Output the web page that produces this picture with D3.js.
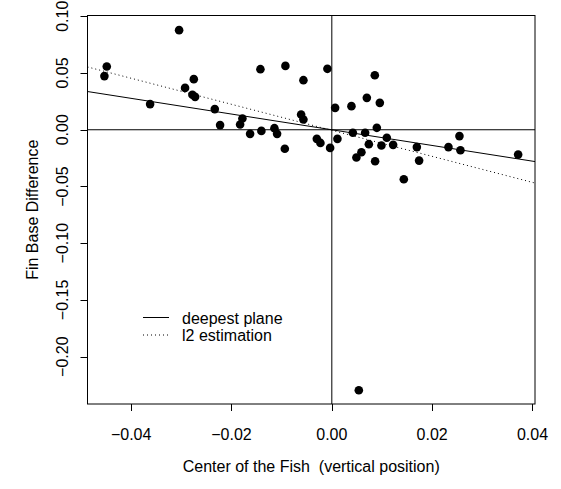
<html>

<head>
    <meta charset="utf-8" />
    <script src="https://cdn.jsdelivr.net/npm/d3@7"></script>
    <style>
        body { margin: 0; background: #fff; }
        text { font-family: "Liberation Sans", Arial, Helvetica, sans-serif; }
    </style>
</head>

<body>
    <script>
        // center of the fish (x) and fin base difference (y)
        var fishCenter = [
            -0.04486, -0.04533, -0.03044, -0.02751, -0.02925, -0.02779, -0.02725, -0.03622,
            -0.02333, -0.02227, -0.01782, -0.01828, -0.01629, -0.01423, -0.00925, -0.00088,
            -0.00566, 0.00857, 0.00698, 0.00957, 0.00391, 0.00066, -0.00612, -0.00566,
            -0.01404, -0.01144, -0.01091, -0.00937, -0.00299, -0.00227, -0.00034, 0.00112,
            0.00419, 0.00664, 0.00897, 0.01096, 0.00738, 0.00989, 0.00590, 0.00490,
            0.00863, 0.01222, 0.01695, 0.01740, 0.01435, 0.02325, 0.02544, 0.02564,
            0.03714, 0.00538
        ];
        var finBaseDiff = [
            0.0557, 0.0473, 0.0878, 0.0446, 0.0369, 0.0308, 0.0290, 0.0226,
            0.0182, 0.0041, 0.0099, 0.0046, -0.0036, 0.0534, 0.0563, 0.0537,
            0.0437, 0.0481, 0.0281, 0.0237, 0.0208, 0.0193, 0.0134, 0.0090,
            -0.0010, 0.0014, -0.0036, -0.0168, -0.0080, -0.0116, -0.0160, -0.0080,
            -0.0027, -0.0027, 0.0017, -0.0071, -0.0127, -0.0139, -0.0198, -0.0245,
            -0.0277, -0.0133, -0.0153, -0.0272, -0.0436, -0.0153, -0.0056, -0.0180,
            -0.0219, -0.2296
        ];

        // fitted lines: [intercept, slope]
        var deepestPlane = [0.0000, -0.692];
        var l2Estimation = [-0.0005, -1.147];

        var xTicks = [-0.04, -0.02, 0.00, 0.02, 0.04];
        var yTicks = [-0.20, -0.15, -0.10, -0.05, 0.00, 0.05, 0.10];
        var legendLabels = ['deepest plane', 'l2 estimation'];

        var width = 561;
        var height = 489;
        var box = { left: 87.5, right: 535, top: 15.5, bottom: 404 };
        var fmt = d3.format('.2f');

        var x = d3.scaleLinear().domain([-0.0487, 0.0405]).range([box.left, box.right]);
        var y = d3.scaleLinear().domain([-0.2417, 0.1007]).range([box.bottom, box.top]);

        var svg = d3.select('body')
            .append('svg')
            .attr('width', width)
            .attr('height', height);

        svg.append('clipPath')
            .attr('id', 'plotclip')
            .append('rect')
            .attr('x', box.left)
            .attr('y', box.top)
            .attr('width', box.right - box.left)
            .attr('height', box.bottom - box.top);

        var plot = svg.append('g').attr('clip-path', 'url(#plotclip)');

        // reference lines through the origin
        plot.append('line')
            .attr('x1', box.left).attr('x2', box.right)
            .attr('y1', y(0)).attr('y2', y(0))
            .attr('stroke', '#000').attr('stroke-width', 1);
        plot.append('line')
            .attr('x1', x(0)).attr('x2', x(0))
            .attr('y1', box.top).attr('y2', box.bottom)
            .attr('stroke', '#000').attr('stroke-width', 1);

        plot.selectAll('circle')
            .data(fishCenter)
            .enter()
            .append('circle')
            .attr('cx', function (d, i) { return x(d); })
            .attr('cy', function (d, i) { return y(finBaseDiff[i]); })
            .attr('r', 4.3)
            .attr('fill', '#000');

        var fits = [
            { coef: deepestPlane, dash: null },
            { coef: l2Estimation, dash: '1,3' }
        ];
        var xd = x.domain();
        plot.selectAll('.fit')
            .data(fits)
            .enter()
            .append('line')
            .attr('class', 'fit')
            .attr('x1', x(xd[0]))
            .attr('x2', x(xd[1]))
            .attr('y1', function (d) { return y(d.coef[0] + d.coef[1] * xd[0]); })
            .attr('y2', function (d) { return y(d.coef[0] + d.coef[1] * xd[1]); })
            .attr('stroke', '#000')
            .attr('stroke-width', 1)
            .attr('stroke-dasharray', function (d) { return d.dash; });

        // frame
        svg.append('rect')
            .attr('x', box.left)
            .attr('y', box.top)
            .attr('width', box.right - box.left)
            .attr('height', box.bottom - box.top)
            .attr('fill', 'none')
            .attr('stroke', '#000')
            .attr('stroke-width', 1);

        // x axis
        var xAxis = svg.append('g');
        xAxis.selectAll('line')
            .data(xTicks)
            .enter()
            .append('line')
            .attr('x1', function (d) { return Math.round(x(d)) + 0.5; })
            .attr('x2', function (d) { return Math.round(x(d)) + 0.5; })
            .attr('y1', box.bottom)
            .attr('y2', box.bottom + 7)
            .attr('stroke', '#000');
        xAxis.selectAll('text')
            .data(xTicks)
            .enter()
            .append('text')
            .text(function (d) { return fmt(d); })
            .attr('x', function (d) { return x(d); })
            .attr('y', 440)
            .attr('text-anchor', 'middle')
            .attr('font-size', 16);

        // y axis
        var yAxis = svg.append('g');
        yAxis.selectAll('line')
            .data(yTicks)
            .enter()
            .append('line')
            .attr('x1', box.left - 7)
            .attr('x2', box.left)
            .attr('y1', function (d) { return Math.round(y(d)) + 0.5; })
            .attr('y2', function (d) { return Math.round(y(d)) + 0.5; })
            .attr('stroke', '#000');
        yAxis.selectAll('text')
            .data(yTicks)
            .enter()
            .append('text')
            .text(function (d) { return fmt(d); })
            .attr('transform', function (d) { return 'translate(68,' + y(d) + ') rotate(-90)'; })
            .attr('text-anchor', 'middle')
            .attr('font-size', 16);

        // titles
        svg.append('text')
            .attr('x', (box.left + box.right) / 2)
            .attr('y', 472)
            .attr('text-anchor', 'middle')
            .attr('font-size', 16)
            .style('white-space', 'pre')
            .text('Center of the Fish  (vertical position)');
        svg.append('text')
            .attr('transform', 'translate(38,' + (box.top + box.bottom) / 2 + ') rotate(-90)')
            .attr('text-anchor', 'middle')
            .attr('font-size', 16)
            .text('Fin Base Difference');

        // legend
        var legend = svg.append('g');
        legend.selectAll('line')
            .data(legendLabels)
            .enter()
            .append('line')
            .attr('x1', 143)
            .attr('x2', 169)
            .attr('y1', function (d, i) { return 317.5 + i * 17.5; })
            .attr('y2', function (d, i) { return 317.5 + i * 17.5; })
            .attr('stroke', '#000')
            .attr('stroke-dasharray', function (d, i) { return fits[i].dash; });
        legend.selectAll('text')
            .data(legendLabels)
            .enter()
            .append('text')
            .text(function (d) { return d; })
            .attr('x', 182)
            .attr('y', function (d, i) { return 323.5 + i * 17.5; })
            .attr('font-size', 16);
    </script>
</body>

</html>
